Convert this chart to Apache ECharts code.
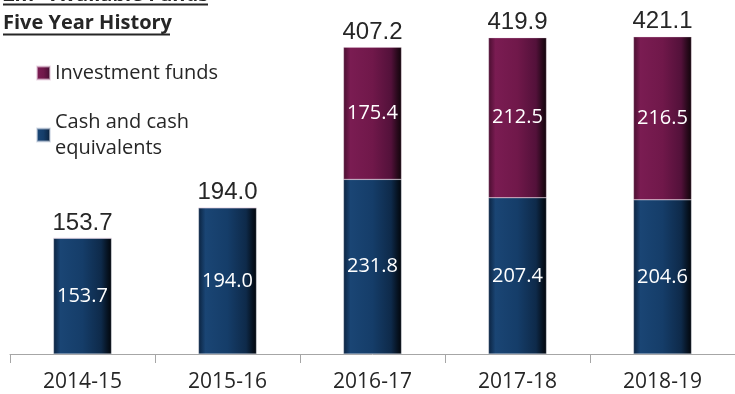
<!DOCTYPE html>
<html><head><meta charset="utf-8">
<script src="https://cdn.jsdelivr.net/npm/echarts@6/dist/echarts.min.js"></script>
<style>html,body{margin:0;padding:0;background:#fff}#c{width:735px;height:394px}</style>
</head><body><div id="c"></div>
<script>
const categories = ['2014-15', '2015-16', '2016-17', '2017-18', '2018-19'];
const cashValues = [153.7, 194.0, 231.8, 207.4, 204.6];
const investValues = [0, 0, 175.4, 212.5, 216.5];
const titleLine1 = '£m - Available Funds';
const titleLine2 = 'Five Year History';

const totals = cashValues.map((v, i) => +(v + investValues[i]).toFixed(1));
const F = '"Open Sans", sans-serif';

function grad(stops) {
  return new echarts.graphic.LinearGradient(0, 0, 1, 0, stops.map((c) => ({offset: c[0], color: c[1]})));
}
const cashColor = grad([[0, '#0b2340'], [0.12, '#1a4574'], [0.5, '#153d69'], [0.82, '#0e2a4a'], [0.93, '#061322'], [1, '#02060c']]);
const investColor = grad([[0, '#4a0e30'], [0.12, '#7a1c52'], [0.5, '#70184a'], [0.82, '#53113a'], [0.93, '#28091b'], [1, '#11040b']]);

const chart = echarts.init(document.getElementById('c'), null, {renderer: 'canvas'});
chart.setOption({
  animation: false,
  grid: {left: 10, right: -5, top: 15, bottom: 40, containLabel: false},
  legend: {
    orient: 'vertical', left: 36, top: 60, itemGap: 10, padding: 0,
    itemWidth: 13, itemHeight: 13,
    icon: 'rect',
    textStyle: {fontFamily: F, fontSize: 20, color: '#262626', lineHeight: 26},
    data: [
      {name: 'Investment funds'},
      {name: 'Cash and cash\nequivalents', textStyle: {padding: [26, 0, 0, 0]}}
    ]
  },
  graphic: [
    {type: 'text', style: {x: 3, y: 5, text: titleLine1, font: 'bold 20px "Open Sans"', fill: '#262626', verticalAlign: 'bottom'}},
    {type: 'line', shape: {x1: 3, y1: 4.5, x2: 208, y2: 4.5}, style: {stroke: '#262626', lineWidth: 2}},
    {type: 'text', style: {x: 3, y: 13, text: titleLine2, font: 'bold 20px "Open Sans"', fill: '#262626', verticalAlign: 'top'}},
    {type: 'line', shape: {x1: 3, y1: 34.5, x2: 170, y2: 34.5}, style: {stroke: '#262626', lineWidth: 2}}
  ],
  xAxis: {
    type: 'category', data: categories,
    axisLine: {lineStyle: {color: '#a6a6a6', width: 1}},
    axisTick: {show: true, length: 9, lineStyle: {color: '#a6a6a6'}},
    axisLabel: {fontFamily: F, fontSize: 21, color: '#262626', margin: 18}
  },
  yAxis: {type: 'value', min: 0, max: 450, show: false, splitLine: {show: false}},
  series: [
    {
      name: 'Cash and cash\nequivalents', type: 'bar', stack: 's', barWidth: '40%',
      data: cashValues,
      itemStyle: {color: cashColor, borderColor: 'rgba(200,210,225,0.6)', borderWidth: 0.5},
      label: {show: true, position: 'inside', fontFamily: F, fontSize: 20, color: '#fff',
        formatter: p => p.value.toFixed(1)}
    },
    {
      name: 'Investment funds', type: 'bar', stack: 's', barWidth: '40%',
      data: investValues,
      itemStyle: {color: investColor, borderColor: 'rgba(230,200,220,0.6)', borderWidth: 0.5},
      label: {show: true, position: 'inside', fontFamily: F, fontSize: 20, color: '#fff',
        formatter: p => p.value ? p.value.toFixed(1) : ''}
    },
    {
      name: 'Total', type: 'bar', stack: 's', barWidth: '40%',
      data: totals.map(() => 0),
      itemStyle: {color: 'transparent'},
      label: {show: true, position: 'top', distance: 3, fontFamily: '"Liberation Sans", Arial, sans-serif',
        fontSize: 24, color: '#262626', formatter: p => totals[p.dataIndex].toFixed(1)}
    }
  ]
});
</script></body></html>
